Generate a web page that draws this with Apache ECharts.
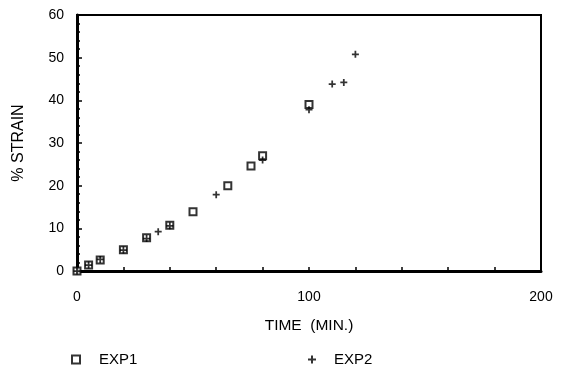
<!DOCTYPE html>
<html>
<head>
<meta charset="utf-8">
<script src="https://cdn.jsdelivr.net/npm/echarts@6/dist/echarts.min.js"></script>
<style>html,body{margin:0;padding:0;background:#fff;}#c{width:564px;height:380px;}</style>
</head>
<body>
<div id="c"></div>
<script>
var exp1 = [[0,0],[5,1.4],[10,2.6],[20,5],[30,7.8],[40,10.7],[50,13.9],[65,20],[75,24.6],[80,27],[100,39]];
var exp2 = [[0,0],[5,1.4],[10,2.7],[20,4.9],[30,7.6],[35,9.2],[40,10.6],[60,17.9],[80,26],[100,37.8],[110,43.8],[115,44.2],[120,50.8]];
var xTickLabels = {0:'0',100:'100',200:'200'};
var plusPath = 'path://M3,0H5V3H8V5H5V8H3V5H0V3H3Z';
var font = 'Liberation Sans';
var chart = echarts.init(document.getElementById('c'));
chart.setOption({
  animation:false,
  backgroundColor:'#fff',
  grid:{left:77, right:23, top:15, bottom:109, show:true, borderColor:'#000', borderWidth:2, backgroundColor:'transparent'},
  xAxis:{type:'value', min:0, max:200, interval:20,
    name:'TIME  (MIN.)', nameLocation:'middle', nameGap:47,
    nameTextStyle:{fontFamily:font, fontSize:15.5, color:'#000'},
    axisLine:{show:true, onZero:false, lineStyle:{color:'#000', width:3}},
    axisTick:{show:true, inside:true, length:4, lineStyle:{color:'#000', width:1.5}},
    axisLabel:{fontFamily:font, fontSize:14, color:'#000', margin:19, formatter:function(v){return xTickLabels[v]!==undefined?xTickLabels[v]:'';}},
    splitLine:{show:false}},
  yAxis:{type:'value', min:0, max:60, interval:10,
    name:'% STRAIN', nameLocation:'middle', nameGap:50,
    nameTextStyle:{fontFamily:font, fontSize:16, color:'#000'},
    axisLine:{show:true, onZero:false, lineStyle:{color:'#000', width:3}},
    axisTick:{show:true, inside:true, length:5, lineStyle:{color:'#000', width:1.5}},
    minorTick:{show:true, splitNumber:5, length:3, lineStyle:{color:'#000', width:1.5}},
    axisLabel:{fontFamily:font, fontSize:14, color:'#000', margin:13},
    splitLine:{show:false}},
  legend:[
    {data:['EXP1'], left:66, top:347, itemWidth:8, itemHeight:8,
     textStyle:{fontFamily:font, fontSize:15, color:'#000', padding:[0,0,0,14]}},
    {data:['EXP2'], left:303, top:347, itemWidth:8, itemHeight:8,
     textStyle:{fontFamily:font, fontSize:15, color:'#000', padding:[0,0,0,13]}}
  ],
  series:[
    {name:'EXP1', type:'scatter', data:exp1, symbol:'rect', symbolSize:7,
     itemStyle:{color:'#fff', borderColor:'#000', borderWidth:2}},
    {name:'EXP2', type:'scatter', data:exp2, symbol:plusPath, symbolSize:7,
     itemStyle:{color:'#000'}}
  ]
});
</script>
</body>
</html>
